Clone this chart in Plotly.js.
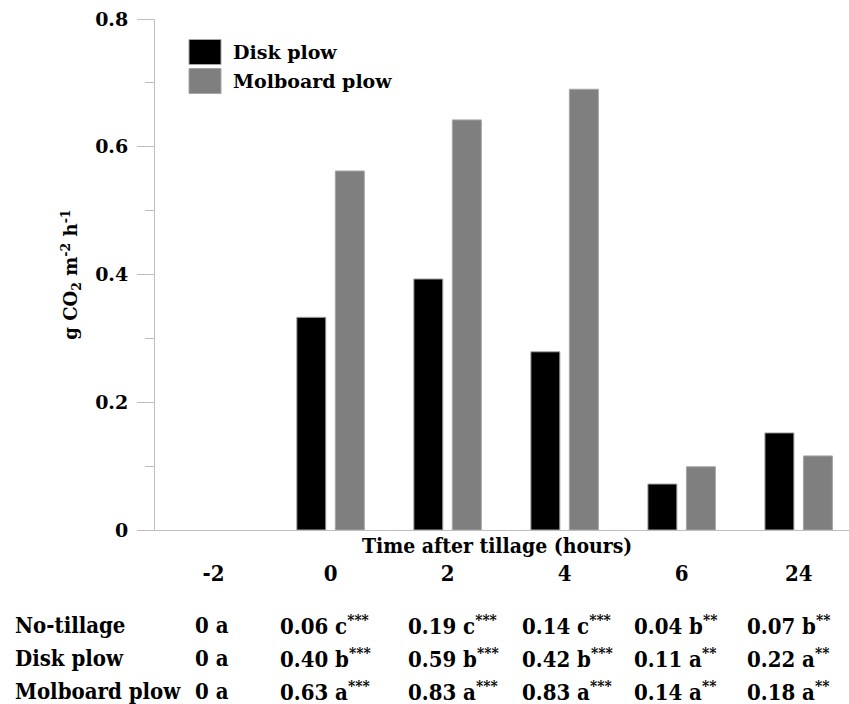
<!DOCTYPE html>
<html>
<head>
<meta charset="utf-8">
<script src="https://cdn.plot.ly/plotly-3.0.1.min.js"></script>
<style>html,body{margin:0;padding:0;background:#fff;}#chart{width:849px;height:704px;}</style>
</head>
<body>
<div id="chart"></div>
<script>
// ---- data ----
const categories = ['-2', '0', '2', '4', '6', '24'];
const seriesNames = ['Disk plow', 'Molboard plow'];
const diskPlow = [0, 0.333, 0.393, 0.279, 0.072, 0.152];
const molboardPlow = [0, 0.562, 0.642, 0.690, 0.099, 0.116];
const yTickVals = [0, 0.2, 0.4, 0.6, 0.8];
const yTickText = ['0', '0.2', '0.4', '0.6', '0.8'];

const tableRowNames = ['No-tillage', 'Disk plow', 'Molboard plow'];
const noTillValues = [0, 0.06, 0.19, 0.14, 0.04, 0.07];
const noTillLetters = ['a', 'c', 'c', 'c', 'b', 'b'];
const diskValues = [0, 0.40, 0.59, 0.42, 0.11, 0.22];
const diskLetters = ['a', 'b', 'b', 'b', 'a', 'a'];
const molValues = [0, 0.63, 0.83, 0.83, 0.14, 0.18];
const molLetters = ['a', 'a', 'a', 'a', 'a', 'a'];
const significance = ['', '***', '***', '***', '**', '**'];

// ---- styling ----
const serifBold = '"DejaVu Serif", "Liberation Serif", serif';
const condBold = '"DejaVu Serif Condensed", "Liberation Serif", serif';
const axisGrey = '#bfbfbf';

const L = 155, R = 849, T = 19, B = 530;
const PW = R - L, PH = B - T;
const px2x = x => (x - L) / PW;
const px2y = y => (B - y) / PH;

const edgeWidths = arr => arr.map(v => (v > 0 ? 1 : 0));

const traces = [
  {type: 'bar', name: seriesNames[0], x: categories, y: diskPlow,
   marker: {color: '#000000', line: {color: '#a6a6a6', width: edgeWidths(diskPlow)}}, showlegend: false},
  {type: 'bar', name: seriesNames[1], x: categories, y: molboardPlow,
   marker: {color: '#7f7f7f', line: {color: '#a6a6a6', width: edgeWidths(molboardPlow)}}, showlegend: false}
];

const annotations = [];
const shapes = [];

// x-axis title (drawn above tick labels as in the reference)
annotations.push({xref: 'paper', yref: 'paper', x: px2x(497), y: px2y(545),
  text: '<b>Time after tillage (hours)</b>', showarrow: false, xanchor: 'center', yanchor: 'middle',
  font: {family: condBold, size: 21, color: '#000'}});

// custom legend
const legendColors = ['#000000', '#7f7f7f'];
const legendRows = [52, 81];
seriesNames.forEach((n, i) => {
  const yc = legendRows[i];
  shapes.push({type: 'rect', xref: 'paper', yref: 'paper',
    x0: px2x(189), x1: px2x(221), y0: px2y(yc - 12.5), y1: px2y(yc + 12.5),
    fillcolor: legendColors[i], line: {color: '#a6a6a6', width: 1}});
  annotations.push({xref: 'paper', yref: 'paper', x: px2x(231), y: px2y(yc),
    text: '<b>' + n + '</b>', showarrow: false, xanchor: 'left', yanchor: 'middle',
    font: {family: serifBold, size: 19, color: '#000'}});
});

// table below chart
const rows = [
  [noTillValues, noTillLetters],
  [diskValues, diskLetters],
  [molValues, molLetters]
];
const rowY = [625, 658, 691];
const colX = [193, 278, 406, 520, 632, 745];
rows.forEach((r, ri) => {
  annotations.push({xref: 'paper', yref: 'paper', x: px2x(13), y: px2y(rowY[ri]),
    text: '<b>' + tableRowNames[ri] + '</b>', showarrow: false, xanchor: 'left', yanchor: 'middle',
    font: {family: condBold, size: 22, color: '#000'}});
  r[0].forEach((v, ci) => {
    const num = v === 0 ? '0' : v.toFixed(2);
    let txt = '<b>' + num + ' ' + r[1][ci] + '</b>';
    if (significance[ci]) txt += '<sup><b>' + significance[ci] + '</b></sup>';
    annotations.push({xref: 'paper', yref: 'paper', x: px2x(colX[ci]), y: px2y(rowY[ri]),
      text: txt, showarrow: false, xanchor: 'left', yanchor: 'middle',
      font: {family: condBold, size: 22, color: '#000'}});
  });
});

const layout = {
  width: 849, height: 704,
  margin: {l: L, r: 849 - R, t: T, b: 704 - B, pad: 0},
  paper_bgcolor: '#ffffff', plot_bgcolor: '#ffffff',
  barmode: 'group', bargap: 0.342, bargroupgap: 0.247,
  showlegend: false,
  xaxis: {type: 'category', range: [-0.5, 5.43], showline: true, linecolor: axisGrey, linewidth: 1,
    ticks: '', showgrid: false, zeroline: false, ticklabelstandoff: 24,
    tickfont: {family: condBold, size: 22, color: '#000', weight: 'bold'}},
  yaxis: {range: [0, 0.8], tickvals: yTickVals, ticktext: yTickText, showline: true, linecolor: axisGrey,
    linewidth: 1, ticks: 'outside', ticklen: 17, tickcolor: axisGrey, tickwidth: 1, showgrid: false,
    zeroline: false, ticklabelstandoff: 5,
    minor: {dtick: 0.1, ticks: 'outside', ticklen: 9, tickcolor: axisGrey, tickwidth: 1, showgrid: false},
    tickfont: {family: serifBold, size: 19, color: '#000', weight: 'bold'},
    title: {text: '<b>g CO<sub>2</sub> m<sup>-2</sup> h<sup>-1</sup></b>', standoff: 12,
      font: {family: serifBold, size: 18, color: '#000'}}},
  annotations: annotations,
  shapes: shapes
};

Plotly.newPlot('chart', traces, layout, {displayModeBar: false, staticPlot: true});
</script>
</body>
</html>
